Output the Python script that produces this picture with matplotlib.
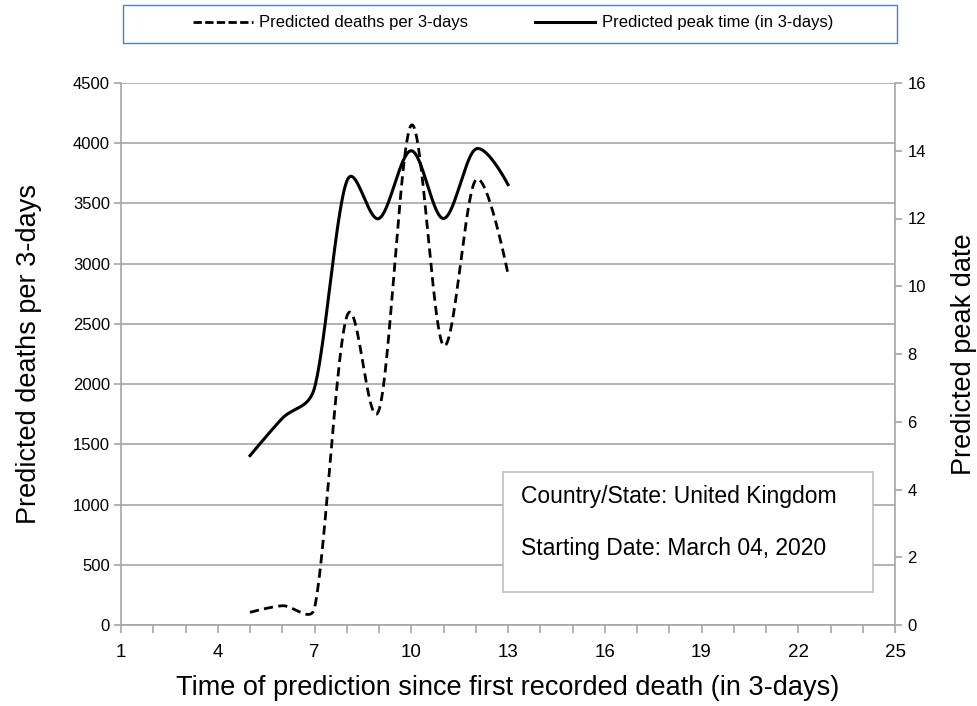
import numpy as np
import matplotlib
matplotlib.use("Agg")
import matplotlib.pyplot as plt
from matplotlib.lines import Line2D
from matplotlib.patches import Rectangle
from matplotlib.ticker import MultipleLocator

# ---------------- data ----------------
prediction_time = [5, 6, 7, 8, 9, 10, 11, 12, 13]
predicted_deaths = [105, 160, 140, 2560, 1785, 4150, 2320, 3695, 2915]
predicted_peak = [5.0, 6.1, 7.0, 13.1, 12.0, 14.0, 12.0, 14.05, 13.0]
x_ticks = [1, 4, 7, 10, 13, 16, 19, 22, 25]
left_ticks = [0, 500, 1000, 1500, 2000, 2500, 3000, 3500, 4000, 4500]
right_ticks = [0, 2, 4, 6, 8, 10, 12, 14, 16]
series_labels = ["Predicted deaths per 3-days", "Predicted peak time (in 3-days)"]
info_lines = ["Country/State: United Kingdom", "Starting Date: March 04, 2020"]

FONT = "Liberation Sans"

W, H = 977, 706
AX_L, AX_B, AX_W, AX_H = 121, 81, 774, 542


def smooth(xs, ys, sx, sy, n=60, clamp=0.5):
    """Excel-like smoothed line: Catmull-Rom Bezier segments computed in
    screen space, control arms clamped relative to the adjacent chord."""
    P = np.column_stack([np.asarray(xs, float) * sx, np.asarray(ys, float) * sy])
    m = len(P)
    t = np.linspace(0, 1, n)[:, None]
    out = []

    def arm(i, direction):
        if i == 0 or i == m - 1:
            return P[i]
        T = (P[i + 1] - P[i - 1]) / 6.0
        j = i + direction
        chord = np.linalg.norm(P[j] - P[i])
        L = np.linalg.norm(T)
        if L > clamp * chord:
            T = T * clamp * chord / L
        return P[i] + direction * T

    for i in range(m - 1):
        p1, p2 = P[i], P[i + 1]
        c1 = arm(i, +1)
        c2 = arm(i + 1, -1)
        seg = ((1 - t) ** 3) * p1 + 3 * ((1 - t) ** 2) * t * c1 + 3 * (1 - t) * t ** 2 * c2 + t ** 3 * p2
        out.append(seg if i == 0 else seg[1:])
    S = np.vstack(out)
    return S[:, 0] / sx, S[:, 1] / sy


fig = plt.figure(figsize=(W / 100, H / 100), dpi=100)
ax = fig.add_axes([AX_L / W, AX_B / H, AX_W / W, AX_H / H])
ax2 = ax.twinx()

grid_c = "#a6a6a6"
ax.set_xlim(x_ticks[0], x_ticks[-1])
ax.set_ylim(left_ticks[0], left_ticks[-1])
ax2.set_ylim(right_ticks[0], right_ticks[-1])

ax.set_yticks(left_ticks)
ax.set_xticks(x_ticks)
ax.xaxis.set_minor_locator(MultipleLocator(1))
ax2.set_yticks(right_ticks)

ax.grid(axis="y", color=grid_c, linewidth=1.2)
ax.set_axisbelow(True)

ax.spines["top"].set_visible(False)
ax2.spines["top"].set_visible(False)
ax2.spines["left"].set_visible(False)
ax2.spines["bottom"].set_visible(False)
ax.spines["right"].set_visible(False)
for sp in [ax.spines["left"], ax.spines["bottom"], ax2.spines["right"]]:
    sp.set_color(grid_c)
    sp.set_linewidth(1.2)

ax.tick_params(axis="y", which="major", direction="out", length=5, color=grid_c, width=1.2,
               labelsize=12, pad=3)
ax.tick_params(axis="x", which="both", direction="out", length=6, color=grid_c, width=1.2,
               labelsize=13.5, pad=8)
ax2.tick_params(axis="y", which="major", direction="out", length=5, color=grid_c, width=1.2,
                labelsize=12, pad=4)
for lab in ax.get_yticklabels() + ax2.get_yticklabels() + ax.get_xticklabels():
    lab.set_family(FONT)

sx = AX_W / (x_ticks[-1] - x_ticks[0])
sy_left = AX_H / (left_ticks[-1] - left_ticks[0])
sy_right = AX_H / (right_ticks[-1] - right_ticks[0])

xs, ys = smooth(prediction_time, predicted_deaths, sx, sy_left)
ax.plot(xs, ys, color="black", linewidth=2.0, linestyle=(0, (3.3, 1.9)))
xs2, ys2 = smooth(prediction_time, predicted_peak, sx, sy_right)
ax2.plot(xs2, ys2, color="black", linewidth=2.2, linestyle="-")

ax.set_xlabel("Time of prediction since first recorded death (in 3-days)", family=FONT,
              fontsize=19.5, labelpad=10)
ax.set_ylabel("Predicted deaths per 3-days", family=FONT, fontsize=19.5, labelpad=22)
ax2.set_ylabel("Predicted peak date", family=FONT, fontsize=19.5, labelpad=18)

# info box
box = Rectangle((503 / W, (H - 592) / H), 370 / W, 120 / H, transform=fig.transFigure,
                facecolor="white", edgecolor="#bfbfbf", linewidth=1.2, zorder=5)
fig.patches.append(box)
fig.text(521 / W, (H - 496) / H, info_lines[0], family=FONT, fontsize=16.5, va="center",
         ha="left", zorder=6)
fig.text(521 / W, (H - 548) / H, info_lines[1], family=FONT, fontsize=16.5, va="center",
         ha="left", zorder=6)

# legend box
lbox = Rectangle((123 / W, (H - 43) / H), 774 / W, 38 / H, transform=fig.transFigure,
                 facecolor="white", edgecolor="#4f81bd", linewidth=1.0, zorder=1)
fig.patches.append(lbox)
handles = [Line2D([], [], color="black", linewidth=2.0, linestyle=(0, (3.0, 1.2))),
           Line2D([], [], color="black", linewidth=2.2, linestyle="-")]
fig.legend(handles, series_labels, loc="center", bbox_to_anchor=(513 / W, (H - 23) / H),
           ncol=2, frameon=False, prop={"family": FONT, "size": 12}, handlelength=3.6,
           handletextpad=0.4, columnspacing=4.0)

fig.savefig("out.png", dpi=100)
